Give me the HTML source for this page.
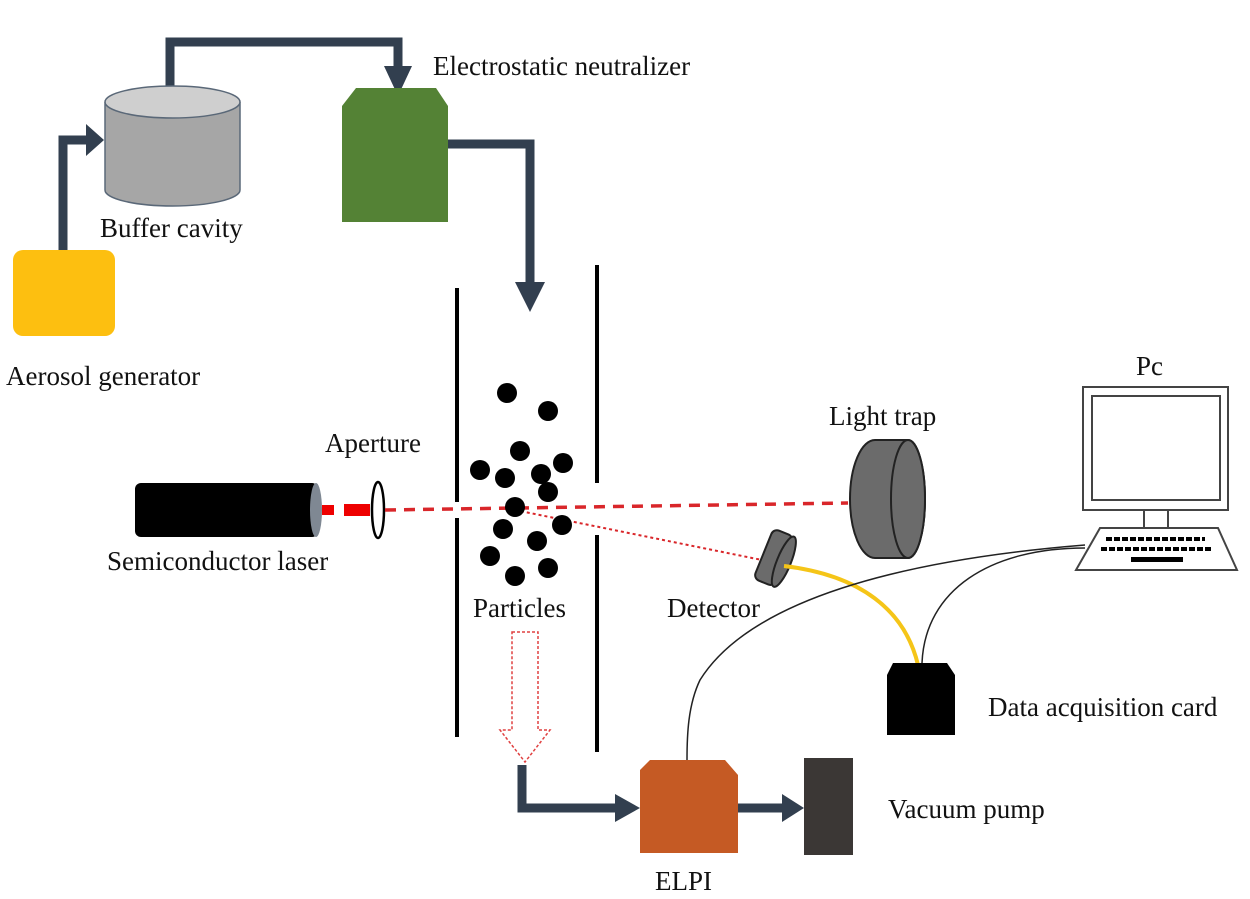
<!DOCTYPE html>
<html><head><style>body{margin:0;background:#fff}svg{display:block}</style></head><body>
<svg width="1250" height="899" viewBox="0 0 1250 899" xmlns="http://www.w3.org/2000/svg">
<g fill="none" stroke="#323f4f" stroke-width="9">
<polyline points="63,250 63,140 90,140"/>
<polyline points="170,88 170,42 398,42 398,68"/>
<polyline points="448,144 530,144 530,285"/>
<polyline points="522,765 522,808 622,808"/>
<polyline points="738,808 785,808"/>
</g>
<g fill="#323f4f">
<polygon points="86,124 104,140 86,156"/>
<polygon points="384,66 412,66 398,96"/>
<polygon points="515,282 545,282 530,312"/>
<polygon points="615,794 640,808 615,822"/>
<polygon points="782,794 804,808 782,822"/>
</g>
<rect x="13" y="250" width="102" height="86" rx="10" fill="#fdbf10"/>
<path d="M105,102 V190 A67.5,16 0 0 0 240,190 V102" fill="#a6a6a6" stroke="#5a6878" stroke-width="1.5"/>
<ellipse cx="172.5" cy="102" rx="67.5" ry="16" fill="#cfcfcf" stroke="#5a6878" stroke-width="1.5"/>
<polygon points="356,88 436,88 448,106 448,222 342,222 342,106" fill="#548235"/>
<g font-family="Liberation Serif, Times New Roman, serif" font-size="27" fill="#111">
<text x="433" y="75">Electrostatic neutralizer</text>
<text x="100" y="237">Buffer cavity</text>
<text x="6" y="385">Aerosol generator</text>
<text x="325" y="452">Aperture</text>
<text x="107" y="570">Semiconductor laser</text>
<text x="473" y="617">Particles</text>
<text x="829" y="425">Light trap</text>
<text x="667" y="617">Detector</text>
<text x="1136" y="375">Pc</text>
<text x="988" y="716">Data acquisition card</text>
<text x="888" y="818">Vacuum pump</text>
<text x="655" y="890">ELPI</text>
</g>
<g stroke="#000" stroke-width="4">
<line x1="457" y1="288" x2="457" y2="502"/><line x1="457" y1="518" x2="457" y2="737"/>
<line x1="597" y1="265" x2="597" y2="483"/><line x1="597" y1="535" x2="597" y2="752"/>
</g>
<rect x="135" y="483" width="183" height="54" rx="6" fill="#000"/>
<ellipse cx="316" cy="510" rx="6" ry="27" fill="#7f8893"/>
<rect x="322" y="505" width="12" height="10" fill="#e00"/>
<rect x="344" y="504" width="26" height="12" fill="#e00"/>
<ellipse cx="378" cy="510" rx="6" ry="28" fill="#fff" stroke="#000" stroke-width="2.5"/>
<line x1="385" y1="510" x2="848" y2="503" stroke="#d9262a" stroke-width="3.5" stroke-dasharray="11,8"/>
<line x1="515" y1="510" x2="762" y2="560" stroke="#d9262a" stroke-width="2" stroke-dasharray="3,3"/>
<g fill="#000">
<circle cx="507" cy="393" r="10"/><circle cx="548" cy="411" r="10"/><circle cx="520" cy="451" r="10"/>
<circle cx="480" cy="470" r="10"/><circle cx="505" cy="478" r="10"/><circle cx="541" cy="474" r="10"/>
<circle cx="563" cy="463" r="10"/><circle cx="548" cy="492" r="10"/><circle cx="515" cy="507" r="10"/>
<circle cx="562" cy="525" r="10"/><circle cx="503" cy="529" r="10"/><circle cx="537" cy="541" r="10"/>
<circle cx="490" cy="556" r="10"/><circle cx="515" cy="576" r="10"/><circle cx="548" cy="568" r="10"/>
</g>
<polygon points="512,632 538,632 538,730 550,730 525,762 500,730 512,730" fill="none" stroke="#e04040" stroke-width="1.5" stroke-dasharray="3,2"/>
<path d="M875,440 H908 A17,59 0 0 1 908,558 H875 A25,59 0 0 1 875,440 Z" fill="#6b6b6b" stroke="#222" stroke-width="2"/>
<ellipse cx="908" cy="499" rx="17" ry="59" fill="#6b6b6b" stroke="#222" stroke-width="2"/>
<g transform="rotate(22 777 560)">
<rect x="762" y="532" width="22" height="54" rx="6" fill="#6b6b6b" stroke="#222" stroke-width="2"/>
<ellipse cx="784" cy="559" rx="7" ry="27" fill="#6b6b6b" stroke="#222" stroke-width="2"/>
</g>
<path d="M784,566 C860,575 905,610 918,665" fill="none" stroke="#f5c518" stroke-width="4"/>
<path d="M1085,545 C900,560 750,600 700,680 C688,705 687,735 687,760" fill="none" stroke="#222" stroke-width="1.5"/>
<path d="M1085,548 C990,548 925,590 922,663" fill="none" stroke="#222" stroke-width="1.5"/>
<rect x="1083" y="387" width="145" height="123" fill="#fff" stroke="#444" stroke-width="2"/>
<rect x="1092" y="396" width="128" height="104" fill="#fff" stroke="#444" stroke-width="2"/>
<rect x="1144" y="510" width="24" height="18" fill="#fff" stroke="#444" stroke-width="2"/>
<polygon points="1100,528 1218,528 1237,570 1076,570" fill="#fff" stroke="#444" stroke-width="2"/>
<g stroke="#000" stroke-width="4" stroke-dasharray="6,2">
<line x1="1106" y1="539" x2="1205" y2="539"/><line x1="1101" y1="549" x2="1212" y2="549"/>
</g>
<rect x="1131" y="557" width="52" height="5" fill="#000"/>
<polygon points="893,663 947,663 955,675 955,735 887,735 887,675" fill="#000"/>
<polygon points="650,760 725,760 738,775 738,853 640,853 640,770" fill="#c55a24"/>
<rect x="804" y="758" width="49" height="97" fill="#3b3735"/>
</svg>
</body></html>
